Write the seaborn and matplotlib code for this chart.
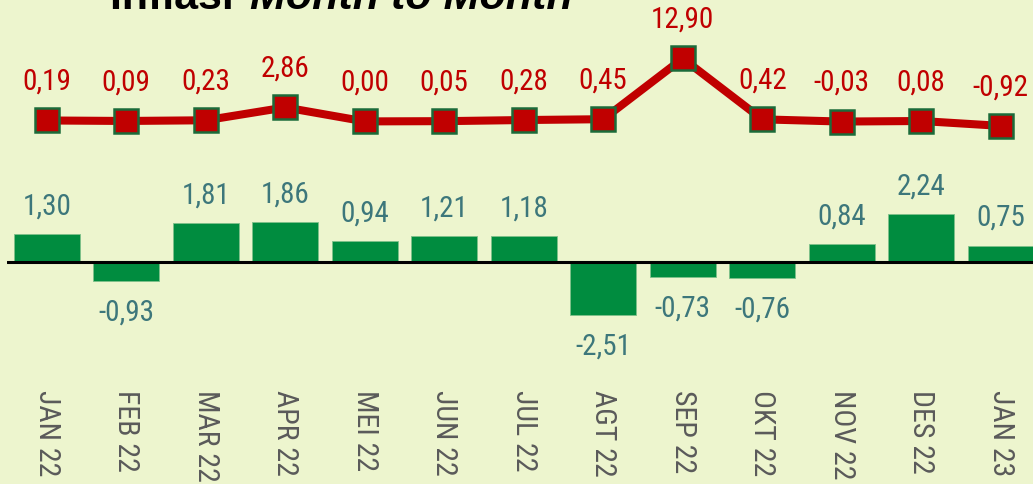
import os
import numpy as np
import pandas as pd
import matplotlib
matplotlib.use("Agg")
import matplotlib.pyplot as plt
from matplotlib import font_manager as fm
import seaborn as sns

months = ["JAN 22", "FEB 22", "MAR 22", "APR 22", "MEI 22", "JUN 22", "JUL 22",
          "AGT 22", "SEP 22", "OKT 22", "NOV 22", "DES 22", "JAN 23"]
bar_values = [1.30, -0.93, 1.81, 1.86, 0.94, 1.21, 1.18, -2.51, -0.73, -0.76, 0.84, 2.24, 0.75]
line_values = [0.19, 0.09, 0.23, 2.86, 0.00, 0.05, 0.28, 0.45, 12.90, 0.42, -0.03, 0.08, -0.92]
title_plain = "Inflasi "
title_italic = "Month to Month"

BG = "#EDF5CE"
GREEN = "#008C3F"
RED = "#C00000"
EDGE = "#1B6B3A"
TEAL = "#3D777B"
GRAY = "#5A5A5A"

sns.set_theme(style="white")
plt.rcParams["font.family"] = ["Liberation Sans", "DejaVu Sans"]

# look for a narrow/condensed sans face (reference uses a narrow Arial-like face)
narrow_path = None
for fam, stretch in [("Liberation Sans Narrow", "normal"), ("Liberation Sans Narrow", "condensed"),
                     ("Roboto Condensed", "normal"), ("Roboto", "condensed"),
                     ("Open Sans Condensed", "normal"), ("Open Sans", "condensed"),
                     ("DejaVu Sans", "condensed"), ("Noto Sans", "condensed")]:
    try:
        p = fm.findfont(fm.FontProperties(family=fam, stretch=stretch), fallback_to_default=False)
    except Exception:
        continue
    name = os.path.basename(p).lower()
    if ("narrow" in name or "condensed" in name or "cond" in name) and "bold" not in name \
            and "italic" not in name and "oblique" not in name:
        narrow_path = p
        break

if narrow_path:
    def fp(size):
        return fm.FontProperties(fname=narrow_path, size=size)
    VAL_SIZE, TICK_SIZE = 21, 21.5
else:
    def fp(size):
        return fm.FontProperties(family=["Liberation Sans", "DejaVu Sans"], size=size)
    VAL_SIZE, TICK_SIZE = 17, 18.5

W, H = 1033, 485
fig = plt.figure(figsize=(W / 100, H / 100), dpi=100, facecolor=BG)

left_px, top_px, bottom_px = 7, 0, 384
ax1 = fig.add_axes([left_px / W, 1 - bottom_px / H, 13 * 79.5 / W, (bottom_px - top_px) / H])
ax1.set_facecolor(BG)

df = pd.DataFrame({"month": months, "bar": bar_values, "line": line_values})
sns.barplot(data=df, x="month", y="bar", color=GREEN, saturation=1, width=0.83,
            ax=ax1, edgecolor="#7FC08A", linewidth=0.6)

# bar scale: 21.3 px per unit, zero at pixel 262.5
zero1, s1 = 262.5, 21.3
ax1.set_ylim((zero1 - bottom_px) / s1, (zero1 - top_px) / s1)
ax1.set_xlim(-0.5, 12.5)
ax1.axhline(0, color="black", lw=2.2, zorder=3)

for i, v in enumerate(df["bar"]):
    lab = f"{v:.2f}".replace(".", ",")
    off = 20.5 if v >= 0 else -22
    ax1.annotate(lab, (i, v), xytext=(0, off), textcoords="offset points",
                 ha="center", va="center", color=TEAL, fontproperties=fp(VAL_SIZE))

ax2 = ax1.twinx()
ax2.patch.set_alpha(0)
x_idx = np.arange(len(months))
sns.lineplot(x=x_idx, y=df["line"].values, ax=ax2, color=RED, lw=5.8, marker="s",
             markersize=17.5, markerfacecolor=RED, markeredgecolor=EDGE,
             markeredgewidth=1.8, zorder=4)
zero2, s2 = 122.4, 4.88
ax2.set_ylim((zero2 - bottom_px) / s2, (zero2 - top_px) / s2)
ax2.set_xlim(-0.5, 12.5)
for i, v in enumerate(df["line"]):
    lab = f"{v:.2f}".replace(".", ",")
    ax2.annotate(lab, (i, v), xytext=(0, 28.6), textcoords="offset points",
                 ha="center", va="center", color=RED, fontproperties=fp(VAL_SIZE))

for ax in (ax1, ax2):
    ax.set_yticks([])
    ax.set_ylabel("")
    ax.set_xlabel("")
    for sp in ax.spines.values():
        sp.set_visible(False)
ax2.tick_params(axis="x", length=0, labelbottom=False)

ax1.set_xticks(x_idx)
ax1.set_xticklabels(months, rotation=270, ha="center", va="top", color=GRAY)
for t in ax1.get_xticklabels():
    t.set_fontproperties(fp(TICK_SIZE))
ax1.tick_params(axis="x", length=0, pad=4)

# title (cut off at top edge as in reference)
fig.text(110 / W, 1 - 9 / H, title_plain, fontsize=31, fontweight="heavy",
         family=["Liberation Sans", "DejaVu Sans"], va="baseline", ha="left", color="black")
fig.text(250 / W, 1 - 9 / H, title_italic, fontsize=31, fontweight="heavy", style="italic",
         family=["Liberation Sans", "DejaVu Sans"], va="baseline", ha="left", color="black")

fig.savefig("out.png", dpi=100, facecolor=BG)
